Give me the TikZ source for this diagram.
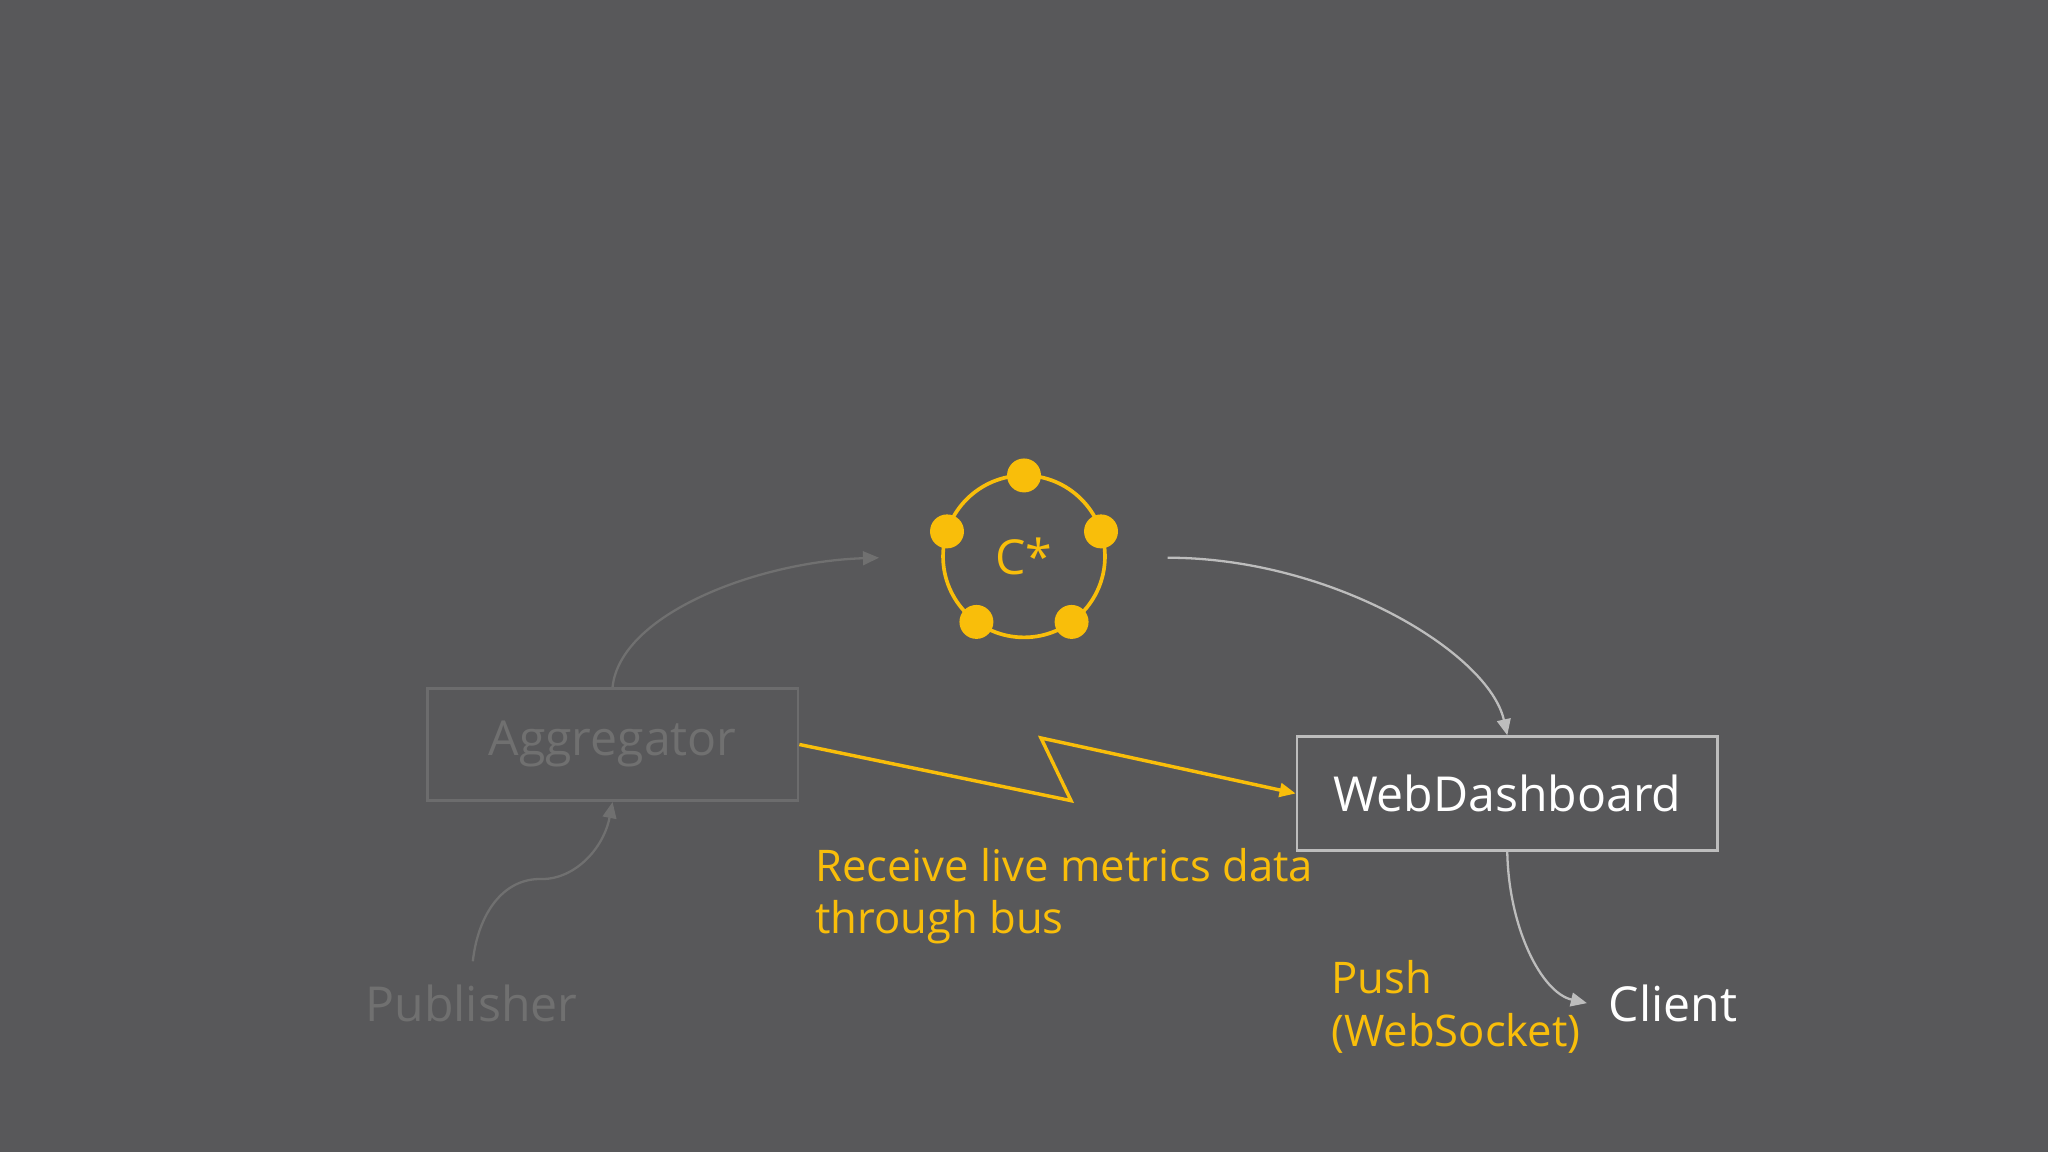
\documentclass[tikz,border=0pt]{standalone}
\usepackage{fontspec}
\setmainfont{Open Sans}
\usetikzlibrary{arrows.meta,calc}
\definecolor{bg}{HTML}{58585A}
\definecolor{yel}{HTML}{F9BE0A}
\definecolor{dim}{HTML}{707070}
\definecolor{lite}{HTML}{BDBDBD}
\tikzset{
  lbl/.style={font=\fontsize{21}{26}\selectfont},
  box/.style={draw, line width=1.2pt, minimum width=5.68cm, minimum height=1.72cm, lbl},
  dot/.style={circle, fill=yel, inner sep=0pt, minimum size=0.52cm},
  conn/.style={line width=1pt, -{Triangle[length=7pt,width=6pt]}},
}
\begin{document}
\begin{tikzpicture}[x=0.02cm,y=-0.02cm]
\fill[bg] (0,0) rectangle (1568,882);
\useasboundingbox (0,0) rectangle (1568,882);
\node[box, draw=dim!85!bg, text=dim] (agg) at (469,570) {Aggregator};
\node[box, draw=lite, text=white, minimum width=6.44cm, minimum height=1.74cm] (web) at (1154,607.5) {WebDashboard};
\node[circle, draw=yel, line width=1.6pt, minimum size=2.48cm, text=yel, lbl] (cs) at (784,426) {C*};
\foreach \a [count=\i] in {90,18,-54,-126,162} \node[dot] (d\i) at ($(cs)+(\a:1.24cm)$) {};
\node[lbl, text=dim] (pub) at (361,768) {Publisher};
\node[lbl, text=white] (cli) at (1281,768) {Client};
\coordinate (cin) at (673,427);
\coordinate (cout) at (894,427);
\coordinate (pubtop) at (362,736);
\coordinate (cliin) at (1215,768);
\draw[conn, draw=dim] (agg.north) .. controls (475,470) and (580,430) .. (cin);
\draw[conn, draw=dim] (pubtop) .. controls (366,700) and (385,672) .. (415,673) .. controls (440,673) and (462,650) .. (agg.south);
\draw[conn, draw=lite] (cout) .. controls (1020,427) and (1140,500) .. (web.north);
\draw[conn, draw=lite] (web.south) .. controls (1155,710) and (1180,760) .. (cliin);
\draw[conn, draw=yel, line width=1.5pt] (agg.east) -- (820,613) -- (797,565) -- (web.west);
\node[text=yel, align=left, anchor=north west, font=\fontsize{19}{23}\selectfont] (rec) at (618,643) {Receive live metrics data\\through bus};
\node[text=yel, align=left, anchor=north west, font=\fontsize{19}{23}\selectfont] (push) at (1013,729) {Push\\(WebSocket)};
\end{tikzpicture}
\end{document}
